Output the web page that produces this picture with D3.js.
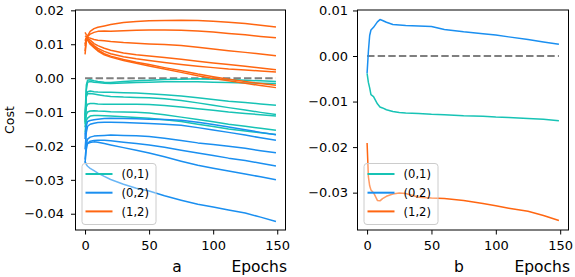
<!DOCTYPE html>
<html>
<head>
<meta charset="utf-8">
<script src="https://cdn.jsdelivr.net/npm/d3@7"></script>
<style>
  body { margin: 0; background: #fff; }
  svg { display: block; font-family: "DejaVu Sans", sans-serif; }
</style>
</head>
<body>
<svg id="chart" width="575" height="277"></svg>
<script>
// epochs where the left panel curves were sampled
const epochsA = [0, 1, 2, 4, 7, 10, 15, 20, 30, 40, 50, 62, 75, 88, 100, 112, 125, 137, 149];

// (0,1) runs
const teal01 = [
  [-0.0110, -0.0020, -0.0006, -0.0005, -0.0008, -0.0010, -0.0012, -0.0013, -0.0010, -0.0008, -0.0006, -0.0004, -0.0003, -0.0002, -0.0003, -0.0004, -0.0006, -0.0008, -0.0010],
  [-0.0125, -0.0035, -0.0012, -0.0010, -0.0012, -0.0013, -0.0015, -0.0016, -0.0014, -0.0013, -0.0012, -0.0011, -0.0011, -0.0011, -0.0012, -0.0013, -0.0014, -0.0015, -0.0016],
  [-0.0130, -0.0050, -0.0040, -0.0038, -0.0040, -0.0041, -0.0042, -0.0042, -0.0043, -0.0044, -0.0046, -0.0049, -0.0053, -0.0058, -0.0063, -0.0068, -0.0072, -0.0076, -0.0080],
  [-0.0120, -0.0055, -0.0046, -0.0045, -0.0047, -0.0049, -0.0052, -0.0054, -0.0056, -0.0057, -0.0058, -0.0061, -0.0066, -0.0073, -0.0080, -0.0087, -0.0094, -0.0101, -0.0107],
  [-0.0135, -0.0085, -0.0077, -0.0075, -0.0075, -0.0076, -0.0077, -0.0077, -0.0077, -0.0077, -0.0078, -0.0081, -0.0085, -0.0090, -0.0095, -0.0100, -0.0104, -0.0108, -0.0112],
  [-0.0145, -0.0108, -0.0100, -0.0097, -0.0096, -0.0097, -0.0098, -0.0099, -0.0100, -0.0101, -0.0103, -0.0108, -0.0115, -0.0122, -0.0129, -0.0136, -0.0142, -0.0148, -0.0154],
  [-0.0160, -0.0125, -0.0118, -0.0112, -0.0110, -0.0110, -0.0111, -0.0112, -0.0114, -0.0116, -0.0118, -0.0123, -0.0128, -0.0136, -0.0143, -0.0150, -0.0156, -0.0161, -0.0166]
];

// (0,2) runs
const blue02 = [
  [-0.0180, -0.0140, -0.0128, -0.0125, -0.0123, -0.0121, -0.0119, -0.0118, -0.0119, -0.0120, -0.0121, -0.0122, -0.0124, -0.0130, -0.0137, -0.0144, -0.0152, -0.0160, -0.0167],
  [-0.0210, -0.0160, -0.0142, -0.0136, -0.0133, -0.0131, -0.0130, -0.0130, -0.0131, -0.0132, -0.0134, -0.0136, -0.0139, -0.0146, -0.0153, -0.0160, -0.0168, -0.0176, -0.0183],
  [-0.0240, -0.0195, -0.0180, -0.0174, -0.0171, -0.0170, -0.0169, -0.0168, -0.0169, -0.0170, -0.0172, -0.0177, -0.0184, -0.0191, -0.0196, -0.0201, -0.0207, -0.0214, -0.0220],
  [-0.0250, -0.0210, -0.0192, -0.0186, -0.0184, -0.0183, -0.0183, -0.0185, -0.0189, -0.0193, -0.0197, -0.0204, -0.0213, -0.0221, -0.0228, -0.0236, -0.0243, -0.0251, -0.0259],
  [-0.0160, -0.0190, -0.0193, -0.0190, -0.0188, -0.0189, -0.0193, -0.0197, -0.0205, -0.0213, -0.0221, -0.0232, -0.0245, -0.0257, -0.0266, -0.0274, -0.0283, -0.0291, -0.0300],
  [-0.0245, -0.0255, -0.0260, -0.0266, -0.0273, -0.0280, -0.0290, -0.0299, -0.0313, -0.0325, -0.0333, -0.0347, -0.0360, -0.0372, -0.0380, -0.0389, -0.0398, -0.0410, -0.0423]
];

// (1,2) runs
const orange12 = [
  [0.0135, 0.0128, 0.0125, 0.0138, 0.0146, 0.0150, 0.0154, 0.0158, 0.0164, 0.0167, 0.0169, 0.0170, 0.0171, 0.0170, 0.0168, 0.0165, 0.0161, 0.0156, 0.0151],
  [0.0080, 0.0115, 0.0122, 0.0130, 0.0135, 0.0138, 0.0139, 0.0138, 0.0140, 0.0141, 0.0142, 0.0142, 0.0141, 0.0139, 0.0136, 0.0132, 0.0128, 0.0123, 0.0119],
  [0.0125, 0.0122, 0.0120, 0.0118, 0.0114, 0.0112, 0.0110, 0.0108, 0.0105, 0.0103, 0.0101, 0.0099, 0.0096, 0.0091, 0.0086, 0.0081, 0.0076, 0.0071, 0.0066],
  [0.0095, 0.0118, 0.0117, 0.0112, 0.0102, 0.0096, 0.0088, 0.0082, 0.0074, 0.0069, 0.0065, 0.0061, 0.0056, 0.0050, 0.0045, 0.0040, 0.0035, 0.0030, 0.0025],
  [0.0110, 0.0120, 0.0115, 0.0106, 0.0096, 0.0088, 0.0079, 0.0072, 0.0063, 0.0057, 0.0052, 0.0046, 0.0040, 0.0035, 0.0031, 0.0027, 0.0024, 0.0021, 0.0018],
  [0.0070, 0.0110, 0.0113, 0.0104, 0.0093, 0.0083, 0.0072, 0.0065, 0.0055, 0.0047, 0.0040, 0.0031, 0.0022, 0.0012, 0.0004, -0.0003, -0.0010, -0.0016, -0.0021],
  [0.0100, 0.0116, 0.0112, 0.0100, 0.0090, 0.0080, 0.0069, 0.0062, 0.0052, 0.0044, 0.0036, 0.0027, 0.0017, 0.0007, -0.0001, -0.0008, -0.0015, -0.0022, -0.0028]
];

// right panel: one run per pair
const epochsB = [0, 1, 2, 3, 5, 8, 10, 12, 15, 20, 25, 30, 40, 50, 60, 75, 90, 100, 110, 125, 137, 149];
const tealB   = [-0.0038, -0.0058, -0.0070, -0.0085, -0.0089, -0.0105, -0.0112, -0.0114, -0.0118, -0.0122, -0.0124, -0.0125, -0.0126, -0.0128, -0.0129, -0.0131, -0.0132, -0.0134, -0.0135, -0.0137, -0.0139, -0.0142];
const blueB   = [-0.0038, 0.0010, 0.0045, 0.0057, 0.0063, 0.0075, 0.0080, 0.0078, 0.0074, 0.0069, 0.0068, 0.0067, 0.0066, 0.0065, 0.0058, 0.0053, 0.0049, 0.0046, 0.0042, 0.0036, 0.0031, 0.0026];
const orangeB = [-0.0191, -0.0265, -0.0285, -0.0294, -0.0300, -0.0317, -0.0318, -0.0313, -0.0308, -0.0303, -0.0301, -0.0302, -0.0310, -0.0312, -0.0313, -0.0317, -0.0324, -0.0329, -0.0334, -0.0341, -0.0350, -0.0361];

const legendLabels = ["(0,1)", "(0,2)", "(1,2)"];
const colors = ["#17c3b5", "#1a8ff0", "#ff6611"];
const xTicks = [0, 50, 100, 150];
const yTicksA = [0.02, 0.01, 0, -0.01, -0.02, -0.03, -0.04];
const yTicksB = [0.01, 0, -0.01, -0.02, -0.03];

const svg = d3.select("#chart");
const fmt = d => (d < -1e-9 ? "\u2212" : "") + Math.abs(d).toFixed(2);

function panel(opts) {
  const x = d3.scaleLinear().domain([-7.45, 156.45]).range([opts.left, opts.right]);
  const y = d3.scaleLinear().domain(opts.yDomain).range([230, 10]);
  const g = svg.append("g");

  const line = (ep) => d3.line().x((d, i) => x(ep[i])).y(d => y(d));

  // zero reference
  g.append("line")
    .attr("x1", x(0)).attr("x2", x(149))
    .attr("y1", y(0)).attr("y2", y(0))
    .attr("stroke", "#7f7f7f").attr("stroke-width", 2)
    .attr("stroke-dasharray", "7.4,3.2");

  opts.series.forEach(s => {
    s.runs.forEach(r => {
      g.append("path")
        .attr("d", line(s.epochs)(r))
        .attr("fill", "none")
        .attr("stroke", s.color)
        .attr("stroke-width", 1.5)
        .attr("stroke-linejoin", "round");
    });
  });

  // axes
  g.append("g").attr("transform", "translate(0,230)")
    .call(d3.axisBottom(x).tickValues(xTicks).tickSize(4.5).tickPadding(6.5))
    .call(a => a.select(".domain").remove())
    .selectAll("text").attr("font-size", 13).attr("fill", "#000").attr("font-family", "DejaVu Sans");
  g.append("g").attr("transform", `translate(${opts.left},0)`)
    .call(d3.axisLeft(y).tickValues(opts.yTicks).tickFormat(fmt).tickSize(4.5).tickPadding(opts.pad))
    .call(a => a.select(".domain").remove())
    .selectAll("text").attr("font-size", 13).attr("fill", "#000").attr("font-family", "DejaVu Sans");

  g.append("rect")
    .attr("x", opts.left).attr("y", 10)
    .attr("width", opts.right - opts.left).attr("height", 220)
    .attr("fill", "none").attr("stroke", "#000").attr("stroke-width", 1);

  // legend
  const lg = g.append("g").attr("transform", `translate(${opts.left + 6.5},163.5)`);
  lg.append("rect")
    .attr("width", 74).attr("height", 61).attr("rx", 3)
    .attr("fill", "#fff").attr("fill-opacity", 0.35)
    .attr("stroke", "#cccccc").attr("stroke-width", 1);
  legendLabels.forEach((lab, i) => {
    const yy = 10.5 + i * 18.7;
    lg.append("line").attr("x1", 3.5).attr("x2", 30.5).attr("y1", yy).attr("y2", yy)
      .attr("stroke", colors[i]).attr("stroke-width", 2);
    lg.append("text").attr("x", 39.5).attr("y", yy + 4.2)
      .attr("font-size", 11.6).text(lab);
  });

  g.append("text").attr("x", opts.tagX).attr("y", 272).attr("text-anchor", "middle")
    .attr("font-size", 15.5).text(opts.tag);
  g.append("text").attr("x", opts.right + 1.5).attr("y", 272).attr("text-anchor", "end")
    .attr("font-size", 15.5).text("Epochs");
}

panel({
  left: 75.5, right: 285.5, yDomain: [-0.0448, 0.0201], yTicks: yTicksA, tag: "a", tagX: 177, pad: 7,
  series: [
    { color: colors[0], epochs: epochsA, runs: teal01 },
    { color: colors[1], epochs: epochsA, runs: blue02 },
    { color: colors[2], epochs: epochsA, runs: orange12 }
  ]
});

panel({
  left: 357.5, right: 568.5, yDomain: [-0.0382, 0.0101], yTicks: yTicksB, tag: "b", tagX: 459, pad: 5,
  series: [
    { color: colors[0], epochs: epochsB, runs: [tealB] },
    { color: colors[1], epochs: epochsB, runs: [blueB] },
    { color: colors[2], epochs: epochsB, runs: [orangeB] }
  ]
});

svg.append("text")
  .attr("transform", "translate(14,120) rotate(-90)")
  .attr("text-anchor", "middle").attr("font-size", 12.5).text("Cost");
</script>
</body>
</html>
